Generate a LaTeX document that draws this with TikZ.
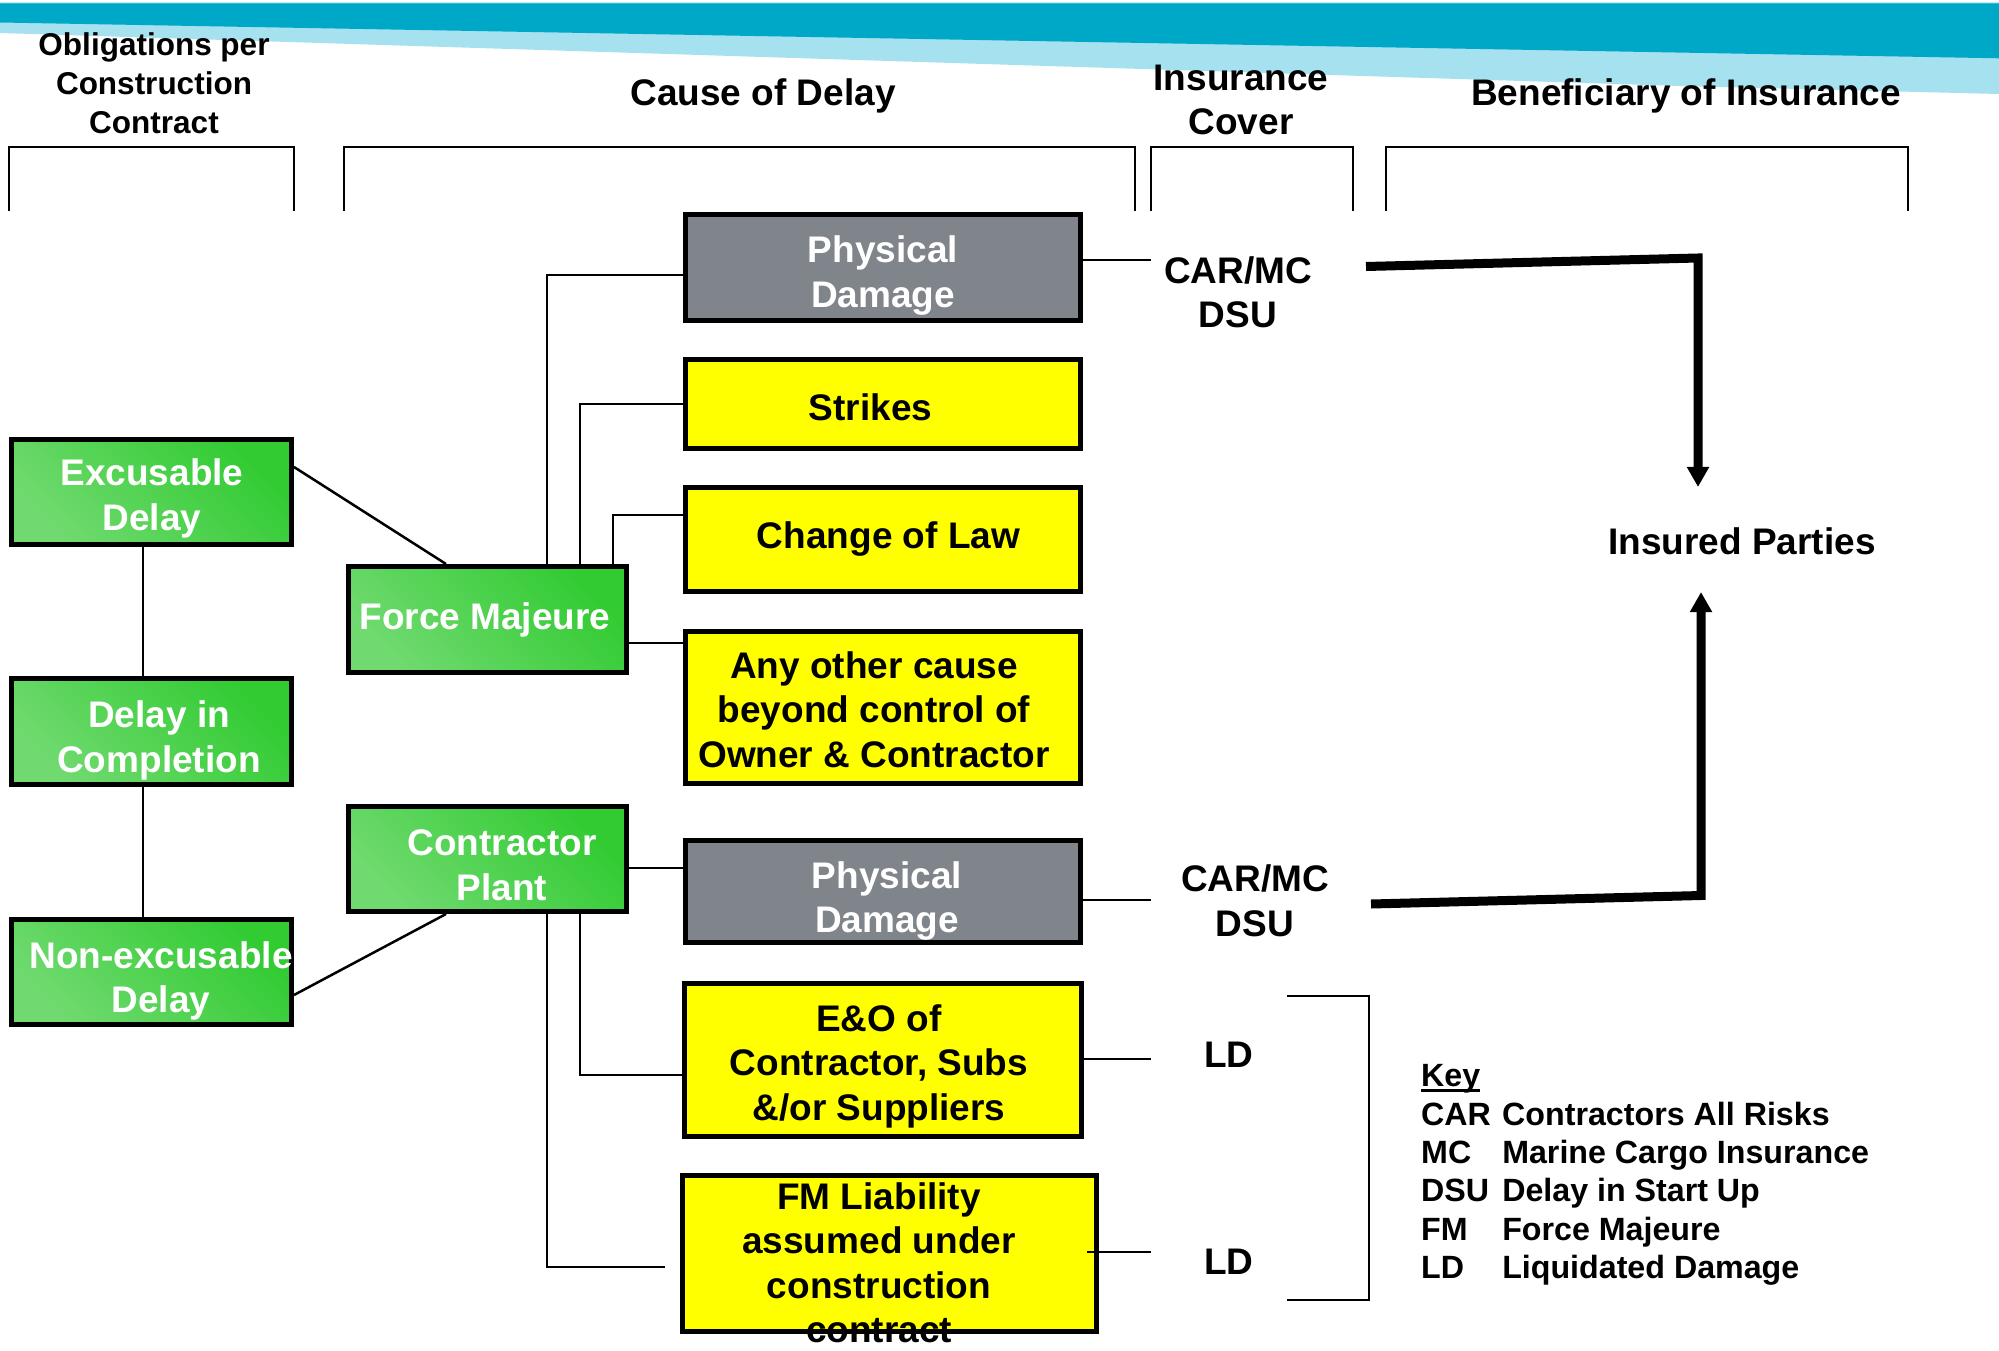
\documentclass[tikz,border=0pt]{standalone}
\usepackage{fontspec}
\setmainfont{Liberation Sans}
\usetikzlibrary{calc,arrows.meta}

\definecolor{bandDark}{RGB}{0,168,200}
\definecolor{bandLight}{RGB}{166,225,239}
\definecolor{greenHi}{RGB}{50,203,50}
\definecolor{greenLo}{RGB}{112,218,112}
\definecolor{boxGray}{RGB}{127,133,138}
\definecolor{boxYellow}{RGB}{255,255,0}

\newcommand{\txtbig}{\fontsize{37pt}{44.5pt}\selectfont\bfseries}
\newcommand{\txtobl}{\fontsize{31.5pt}{39pt}\selectfont\bfseries}
\newcommand{\txtkey}{\fontsize{32.2pt}{38.3pt}\selectfont\bfseries}
\newcommand{\mlstack}[1]{\begin{tabular}{@{}c@{}}#1\end{tabular}}
\newcommand{\ulkey}[1]{\sbox0{#1}\rlap{\rule[-5pt]{\wd0}{2.5pt}}\usebox0}

\tikzset{
  cbox/.style={rectangle, draw=black, line width=5pt, inner sep=0pt},
  greenbox/.style={cbox, top color=greenHi, bottom color=greenLo, shading angle=-45},
  graybox/.style={cbox, fill=boxGray},
  yellowbox/.style={cbox, fill=boxYellow},
  lbl/.style={inner sep=0pt, font=\txtbig, text=black},
  wlbl/.style={lbl, text=white},
  link/.style={draw=black, line width=2.5pt},
  fat/.style={draw=black, line width=9pt, line join=miter, -{Triangle[length=20pt,width=21pt]}},
  bracket/.style={draw=black, line width=2.5pt, line join=miter},
}

\begin{document}
\begin{tikzpicture}[x=1pt,y=-1pt]
\useasboundingbox (0,0) rectangle (1999,1351);
\fill[white] (0,0) rectangle (1999,1351);

% banner across the top
\fill[bandLight] (0,2.5) -- (1999,2.5) -- (1999,94) -- (1680,86) -- (320,43) -- (0,33) -- cycle;
\fill[bandDark] (0,3.5) -- (1999,3.5) -- (1999,58.3) -- (0,22.5) -- cycle;

% column headings
\node[lbl, font=\txtobl, anchor=north] (hObl) at (154,27.7) {\mlstack{Obligations per\\Construction\\Contract}};
\node[lbl, anchor=base] (hCause) at (763,106) {Cause of Delay};
\node[lbl, anchor=north] (hIns) at (1241,58.9) {\mlstack{Insurance\\Cover}};
\node[lbl, anchor=base] (hBen) at (1686,106) {Beneficiary of Insurance};

% heading brackets
\draw[bracket] (9,211) |- (294,147) -- (294,211);
\draw[bracket] (344,211) |- (1135,147) -- (1135,211);
\draw[bracket] (1151,211) |- (1353,147) -- (1353,211);
\draw[bracket] (1386,211) |- (1908,147) -- (1908,211);

% obligation boxes
\node[greenbox, minimum width=280pt, minimum height=105pt] (ex) at (151.5,492) {};
\node[greenbox, minimum width=280pt, minimum height=106pt] (dic) at (151.5,731.5) {};
\node[greenbox, minimum width=280pt, minimum height=105pt] (nex) at (151.5,972) {};
\node[greenbox, minimum width=278pt, minimum height=106pt] (fm) at (487.5,619.5) {};
\node[greenbox, minimum width=278pt, minimum height=105pt] (cp) at (487.5,859) {};

% cause boxes
\node[graybox, minimum width=395pt, minimum height=106pt] (pd1) at (883,267.5) {};
\node[yellowbox, minimum width=395pt, minimum height=89pt] (st) at (883,404) {};
\node[yellowbox, minimum width=395pt, minimum height=104pt] (col) at (883,539.5) {};
\node[yellowbox, minimum width=395pt, minimum height=152pt] (any) at (883,707.5) {};
\node[graybox, minimum width=395pt, minimum height=102pt] (pd2) at (883,891.5) {};
\node[yellowbox, minimum width=397pt, minimum height=153pt] (eo) at (883,1060) {};
\node[yellowbox, minimum width=414pt, minimum height=156pt] (fml) at (889.5,1253.5) {};

% box texts
\node[wlbl, anchor=north] (exT) at (152,454.5) {\mlstack{Excusable\\Delay}};
\node[wlbl, anchor=north] (dicT) at (159,696.4) {\mlstack{Delay in\\Completion}};
\node[wlbl, anchor=north] (nexT) at (161,937.1) {\mlstack{Non-excusable\\Delay}};
\node[wlbl, anchor=base] (fmT) at (485,629.6) {Force Majeure};
\node[wlbl, anchor=north] (cpT) at (502,824.4) {\mlstack{Contractor\\Plant}};
\node[wlbl, anchor=north] (pd1T) at (883,231.3) {\mlstack{Physical\\Damage}};
\node[lbl, anchor=base] (stT) at (870.5,420.7) {Strikes};
\node[lbl, anchor=base] (colT) at (888.5,548) {Change of Law};
\node[lbl, anchor=north] (anyT) at (874,646.9) {\mlstack{Any other cause\\beyond control of\\Owner \& Contractor}};
\node[wlbl, anchor=north] (pd2T) at (887,856.9) {\mlstack{Physical\\Damage}};
\node[lbl, anchor=north] (eoT) at (879,999.7) {\mlstack{E\&O of\\Contractor, Subs\\\&/or Suppliers}};
\node[lbl, anchor=north] (fmlT) at (879,1178.1) {\mlstack{FM Liability\\assumed under\\construction\\contract}};

% insurance cover and beneficiary labels
\node[lbl, anchor=north] (car1) at (1238,251.9) {\mlstack{CAR/MC\\DSU}};
\node[lbl, anchor=north] (car2) at (1255,860.4) {\mlstack{CAR/MC\\DSU}};
\node[lbl, anchor=base] (ld1) at (1229,1067) {LD};
\node[lbl, anchor=base] (ld2) at (1229,1274) {LD};
\node[lbl, anchor=base] (ip) at (1742,554) {Insured Parties};

% free line ends
\coordinate (c1) at (1151,260);
\coordinate (c2) at (1151,900);
\coordinate (c3) at (1151,1059);
\coordinate (c4) at (1151,1252);
\coordinate (a1) at (1366,266.5);
\coordinate (a1k) at (1698,258);
\coordinate (a2) at (1371,904);
\coordinate (a2k) at (1701,895.5);
\coordinate (bt) at (1287,996);
\coordinate (bb) at (1287,1300);

% connectors
\draw[link] (ex.east |- 0,467) -- (fm.north -| 446,0);
\draw[link] (ex.south -| 143,0) -- (dic.north -| 143,0);
\draw[link] (dic.south -| 143,0) -- (nex.north -| 143,0);
\draw[link] (nex.east |- 0,995) -- (cp.south -| 446,0);
\draw[link] (fm.north -| 547,0) |- (pd1.west |- 0,275);
\draw[link] (fm.north -| 580,0) |- (st.west);
\draw[link] (fm.north -| 613,0) |- (col.west |- 0,515);
\draw[link] (fm.east |- 0,643) -- (any.west |- 0,643);
\draw[link] (cp.east |- 0,868) -- (pd2.west |- 0,868);
\draw[link] (cp.south -| 580,0) |- (eo.west |- 0,1075);
\draw[link, shorten >=15pt] (cp.south -| 547,0) |- (fml.west |- 0,1267);
\draw[link] (pd1.east |- 0,260) -- (c1);
\draw[link] (pd2.east |- 0,900) -- (c2);
\draw[link] (eo.east |- 0,1059) -- (c3);
\draw[link] ($(fml.east |- 0,1252)+(-12,0)$) -- (c4);
\draw[link] (bt) -- ++(82,0) |- (bb);

% cover flows to the insured parties
\draw[fat, shorten >=40pt] (a1) -- (a1k) -- (ip.north -| a1k);
\draw[fat, shorten >=37.5pt] (a2) -- (a2k) -- (ip.south -| a2k);

% key
\node[inner sep=0pt, font=\txtkey, anchor=north west] (key) at (1421,1059.9)
  {\begin{tabular}{@{}l@{\hspace{11.3pt}}l@{}}
    \ulkey{Key} & \\
    CAR & Contractors All Risks\\
    MC & Marine Cargo Insurance\\
    DSU & Delay in Start Up\\
    FM & Force Majeure\\
    LD & Liquidated Damage
  \end{tabular}};
\end{tikzpicture}
\end{document}
